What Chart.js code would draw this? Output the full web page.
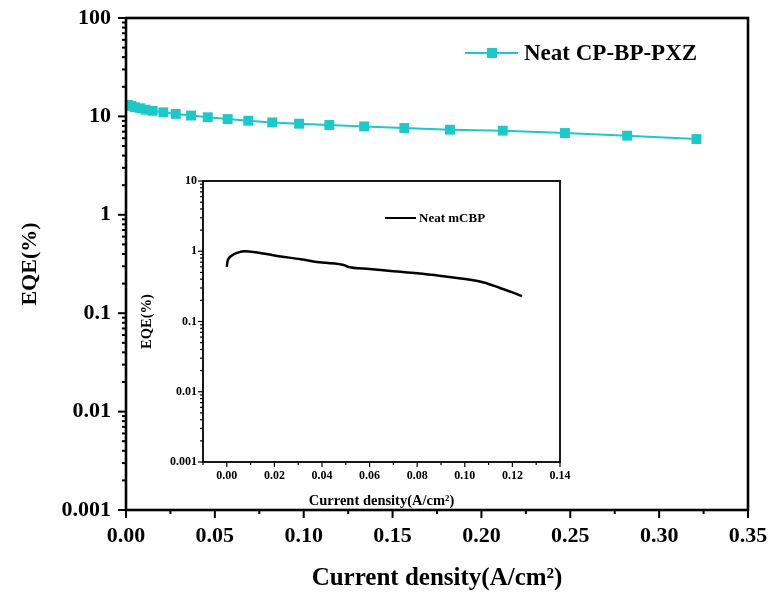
<!DOCTYPE html>
<html><head><meta charset="utf-8">
<script src="https://cdn.jsdelivr.net/npm/chart.js@4/dist/chart.umd.min.js"></script>
<style>
html,body{margin:0;padding:0;background:#fff;}
#wrap{position:relative;width:772px;height:594px;font-family:"Liberation Serif","Times New Roman",serif;font-weight:bold;color:#000;}
#main{position:absolute;left:0;top:0;width:772px;height:594px;}
#inset{position:absolute;left:125px;top:165px;width:455px;height:345px;}
.leg{position:absolute;display:flex;align-items:center;white-space:nowrap;transform:translateY(-50%);}
.ln{position:relative;display:inline-block;}
.sq{position:absolute;left:50%;top:50%;transform:translate(-50%,-50%);}
</style></head><body>
<div id="wrap">
<canvas id="main" width="772" height="594"></canvas>
<canvas id="inset" width="455" height="345"></canvas>
<div class="leg" id="legMain" style="left:465px;top:53px;">
  <span class="ln" style="width:53px;height:2px;background:#1cc8c8;"><span class="sq" style="width:10px;height:10px;background:#1cc8c8;"></span></span>
  <span id="legMainText" style="margin-left:6px;font-size:23px;"></span>
</div>
<div class="leg" id="legInset" style="left:385px;top:218px;">
  <span class="ln" style="width:31px;height:2.5px;background:#000;"></span>
  <span id="legInsetText" style="margin-left:3px;font-size:13px;"></span>
</div>
</div>
<script>
// ---- main chart data ----
const mainLabel = 'Neat CP-BP-PXZ';
const mainX = [0.001, 0.003, 0.005, 0.008, 0.011, 0.015, 0.021, 0.028, 0.0366, 0.046, 0.0572, 0.0688, 0.0823, 0.0974, 0.1144, 0.134, 0.1566, 0.1823, 0.212, 0.247, 0.282, 0.321];
const mainY = [13.1, 12.8, 12.4, 12.1, 11.7, 11.4, 11.0, 10.6, 10.2, 9.8, 9.4, 9.04, 8.69, 8.43, 8.18, 7.91, 7.62, 7.33, 7.16, 6.78, 6.37, 5.89];
const mainXTickLabels = ['0.00','0.05','0.10','0.15','0.20','0.25','0.30','0.35'];
const mainYTickLabels = ['0.001','0.01','0.1','1','10','100'];
const mainXTitle = 'Current density(A/cm\u00B2)';
const mainYTitle = 'EQE(%)';

// ---- inset chart data ----
const insetLabel = 'Neat mCBP';
const insetX = [0.0, 0.0003, 0.001, 0.002, 0.004, 0.0073, 0.012, 0.02, 0.031, 0.04, 0.0499, 0.0505, 0.06, 0.07, 0.08, 0.09, 0.1009, 0.108, 0.1148, 0.12, 0.124];
const insetY = [0.6, 0.72, 0.8, 0.86, 0.94, 1.0, 0.97, 0.87, 0.77, 0.69, 0.625, 0.607, 0.56, 0.52, 0.485, 0.445, 0.40, 0.36, 0.30, 0.26, 0.23];
const insetXTickLabels = ['0.00','0.02','0.04','0.06','0.08','0.10','0.12','0.14'];
const insetYTickLabels = ['0.001','0.01','0.1','1','10'];
const insetXTitle = 'Current density(A/cm\u00B2)';
const insetYTitle = 'EQE(%)';

document.getElementById('legMainText').textContent = mainLabel;
document.getElementById('legInsetText').textContent = insetLabel;

const FONT = "'Liberation Serif','Times New Roman',serif";
const near = (a,b)=>Math.abs(a-b)<1e-7;
function isDecade(v){ const l=Math.log10(v); return Math.abs(l-Math.round(l))<1e-6; }
function isIntMantissa(v){ const e=Math.floor(Math.log10(v)+1e-9); const m=v/Math.pow(10,e); return Math.abs(m-Math.round(m))<1e-6; }
function noPad(s){ s.paddingTop=0; s.paddingBottom=0; s.paddingLeft=0; s.paddingRight=0; }

function decoPlugin(o){
  return { id:'deco', afterDraw(chart){
    const {ctx, chartArea:a} = chart; const xs=chart.scales.x, ys=chart.scales.y;
    ctx.save(); ctx.strokeStyle='#000'; ctx.lineCap='butt';
    ctx.lineWidth=o.tickW;
    xs.ticks.forEach(t=>{
      const p=xs.getPixelForValue(t.value);
      if(p<a.left-0.5||p>a.right+0.5) return;
      const L=o.xMajor(t.value)?o.maj:o.min;
      ctx.beginPath(); ctx.moveTo(p,a.bottom); ctx.lineTo(p,a.bottom+L); ctx.stroke();
    });
    ys.ticks.forEach(t=>{
      if(!isIntMantissa(t.value)) return;
      const p=ys.getPixelForValue(t.value);
      const L=isDecade(t.value)?o.maj:o.min;
      ctx.beginPath(); ctx.moveTo(a.left,p); ctx.lineTo(a.left-L,p); ctx.stroke();
    });
    ctx.lineWidth=o.frameW;
    ctx.strokeRect(a.left,a.top,a.right-a.left,a.bottom-a.top);
    ctx.restore();
  }};
}

// ---- main chart ----
new Chart(document.getElementById('main'), {
  type:'line',
  data:{ datasets:[{
    label: mainLabel,
    data: mainX.map((x,i)=>({x, y: mainY[i]})),
    borderColor:'#1cc8c8', backgroundColor:'#1cc8c8', borderWidth:2,
    pointStyle:'rect', pointRadius:7, pointHoverRadius:7, pointBorderWidth:0, tension:0
  }]},
  options:{
    responsive:false, animation:false, devicePixelRatio:1,
    layout:{padding:{top:18,right:24,bottom:0,left:0}},
    plugins:{legend:{display:false}, tooltip:{enabled:false}},
    scales:{
      x:{ type:'linear', min:0, max:0.35,
        afterFit(s){ s.height=84; noPad(s); },
        grid:{display:false, drawTicks:false}, border:{display:false},
        ticks:{ stepSize:0.025, autoSkip:false, maxRotation:0, padding:13, color:'#000',
          font:{family:FONT, size:22, weight:'bold'},
          callback(v){ const k=Math.round(v/0.05); return near(v,k*0.05)?mainXTickLabels[k]:''; } },
        title:{display:true, text:mainXTitle, color:'#000', font:{family:FONT,size:25,weight:'bold'}, padding:{top:0,bottom:0}}
      },
      y:{ type:'logarithmic', min:0.001, max:100,
        afterFit(s){ s.width=126; noPad(s); },
        grid:{display:false, drawTicks:false}, border:{display:false},
        ticks:{ autoSkip:false, padding:15, color:'#000',
          font:{family:FONT, size:22, weight:'bold'},
          callback(v){ return isDecade(v)? mainYTickLabels[Math.round(Math.log10(v))+3] : ''; } },
        title:{display:true, text:mainYTitle, color:'#000', font:{family:FONT,size:22,weight:'bold'}, padding:{top:17,bottom:0}}
      }
    }
  },
  plugins:[decoPlugin({tickW:2, frameW:2.6, maj:8, min:4, xMajor:v=>near(v,Math.round(v/0.05)*0.05)})]
});

// ---- inset chart ----
new Chart(document.getElementById('inset'), {
  type:'line',
  data:{ datasets:[{
    label: insetLabel,
    data: insetX.map((x,i)=>({x, y: insetY[i]})),
    borderColor:'#000', backgroundColor:'#000', borderWidth:2.5,
    pointRadius:0, pointHoverRadius:0, tension:0.2, cubicInterpolationMode:'monotone'
  }]},
  options:{
    responsive:false, animation:false, devicePixelRatio:1,
    layout:{padding:{top:16,right:20,bottom:0,left:0}},
    plugins:{legend:{display:false}, tooltip:{enabled:false}},
    scales:{
      x:{ type:'linear', min:-0.01, max:0.14,
        afterFit(s){ s.height=48; noPad(s); },
        grid:{display:false, drawTicks:false}, border:{display:false},
        ticks:{ stepSize:0.01, autoSkip:false, maxRotation:0, padding:7, color:'#000',
          font:{family:FONT, size:12, weight:'bold'},
          callback(v){ const k=Math.round(v/0.02); return (v>-1e-9 && near(v,k*0.02))?insetXTickLabels[k]:''; } },
        title:{display:true, text:insetXTitle, color:'#000', font:{family:FONT,size:14.5,weight:'bold'}, padding:{top:0,bottom:0}}
      },
      y:{ type:'logarithmic', min:0.001, max:10,
        afterFit(s){ s.width=78; noPad(s); },
        grid:{display:false, drawTicks:false}, border:{display:false},
        ticks:{ autoSkip:false, padding:6, color:'#000',
          font:{family:FONT, size:12, weight:'bold'},
          callback(v){ return isDecade(v)? insetYTickLabels[Math.round(Math.log10(v))+3] : ''; } },
        title:{display:true, text:insetYTitle, color:'#000', font:{family:FONT,size:14.5,weight:'bold'}, padding:{top:14,bottom:0}}
      }
    }
  },
  plugins:[decoPlugin({tickW:1.2, frameW:1.8, maj:5, min:3, xMajor:v=>near(v,Math.round(v/0.02)*0.02)})]
});
</script>
</body></html>
